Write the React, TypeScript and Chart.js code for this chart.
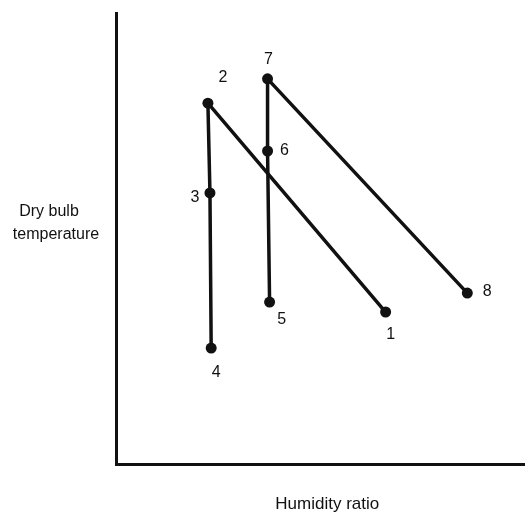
import React, { useEffect, useRef } from "react";
import { Chart, registerables } from "chart.js";

Chart.register(...registerables);

// State points on the chart (arbitrary units, 0-100 on both axes)
const pointLabels = ["1", "2", "3", "4", "5", "6", "7", "8"];
const humidityRatio = [66, 22.5, 23, 23.3, 37.6, 37.1, 37.1, 86];
const dryBulbTemperature = [33.7, 80, 60.1, 25.7, 35.9, 69.4, 85.4, 37.9];

// Process paths (indices into the arrays above)
const processA = [0, 1, 2, 3]; // 1 -> 2 -> 3 -> 4
const processB = [7, 6, 5, 4]; // 8 -> 7 -> 6 -> 5

const xTitle = "Humidity ratio";
const yTitleLines = ["Dry bulb", "temperature"];

// label offsets in pixels (style only)
const labelOffsets: Record<string, [number, number]> = {
  "1": [5, 23],
  "2": [15, -26],
  "3": [-15, 5],
  "4": [5, 25],
  "5": [12, 18],
  "6": [17, 0],
  "7": [1, -19],
  "8": [20, -1],
};

const FONT = '"Liberation Sans", Arial, sans-serif';

const pathData = (idx: number[]) =>
  idx.map((i) => ({ x: humidityRatio[i], y: dryBulbTemperature[i], label: pointLabels[i] }));

const textPlugin = {
  id: "textPlugin",
  afterDatasetsDraw(chart: any) {
    const ctx = chart.ctx;
    const area = chart.chartArea;
    ctx.save();
    ctx.fillStyle = "#111";
    ctx.textAlign = "center";
    ctx.textBaseline = "middle";
    ctx.font = `16px ${FONT}`;
    const drawn = new Set<string>();
    chart.data.datasets.forEach((ds: any, di: number) => {
      const meta = chart.getDatasetMeta(di);
      meta.data.forEach((el: any, i: number) => {
        const lab = ds.data[i].label;
        if (drawn.has(lab)) return;
        drawn.add(lab);
        const off = labelOffsets[lab] || [10, -10];
        ctx.fillText(lab, el.x + off[0], el.y + off[1]);
      });
    });
    // axis titles
    ctx.font = `16px ${FONT}`;
    ctx.fillText(yTitleLines[0], area.left - 67, 212);
    ctx.fillText(yTitleLines[1], area.left - 60, 235);
    ctx.font = `17px ${FONT}`;
    ctx.fillText(xTitle, (area.left + area.right) / 2 + 7, area.bottom + 40);
    ctx.restore();
  },
};

export default function App() {
  const ref = useRef<HTMLCanvasElement>(null);
  useEffect(() => {
    if (!ref.current) return;
    const common = {
      showLine: true,
      borderColor: "#111",
      backgroundColor: "#111",
      borderWidth: 3.5,
      pointRadius: 5.5,
      pointHoverRadius: 5.5,
      pointBackgroundColor: "#111",
      pointBorderWidth: 0,
      tension: 0,
      clip: false as any,
    };
    const chart = new Chart(ref.current, {
      type: "scatter",
      data: {
        datasets: [
          { ...common, data: pathData(processA) },
          { ...common, data: pathData(processB) },
        ],
      },
      options: {
        responsive: false,
        animation: false,
        layout: { padding: { left: 116, right: 0, top: 13, bottom: 53 } },
        plugins: { legend: { display: false }, tooltip: { enabled: false } },
        scales: {
          x: {
            type: "linear",
            min: 0,
            max: 100,
            ticks: { display: false },
            grid: { display: false, drawTicks: false },
            border: { display: true, color: "#111", width: 3 },
          },
          y: {
            type: "linear",
            min: 0,
            max: 100,
            ticks: { display: false },
            grid: { display: false, drawTicks: false },
            border: { display: true, color: "#111", width: 3 },
          },
        },
      },
      plugins: [textPlugin],
    } as any);
    return () => chart.destroy();
  }, []);
  return (
    <div style={{ position: "fixed", left: 0, top: 0, width: 530, height: 517, background: "#fff" }}>
      <canvas ref={ref} width={530} height={517} style={{ display: "block" }} />
    </div>
  );
}
